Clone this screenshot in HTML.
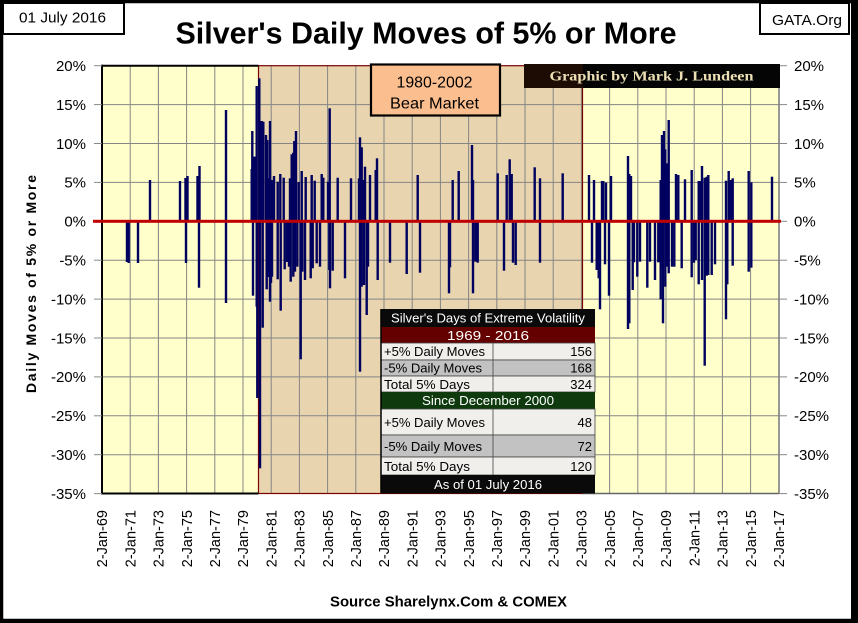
<!DOCTYPE html>
<html><head><meta charset="utf-8"><style>
html,body{margin:0;padding:0;background:#fff;}
svg{display:block;}
text{font-family:"Liberation Sans",Arial,sans-serif;}
</style></head><body>
<svg width="858" height="623" viewBox="0 0 858 623" xmlns="http://www.w3.org/2000/svg">
<rect x="0" y="0" width="858" height="623" fill="#fff"/>
<!-- plot background -->
<rect x="102" y="65.7" width="677" height="427.8" fill="#ffffcc"/>
<rect x="258.5" y="65.7" width="324" height="427.8" fill="#e8d4ae"/>
<g id="grid" stroke="#858585" stroke-width="1"></g>
<rect x="258.5" y="65.7" width="324" height="427.8" fill="none" stroke="#7a0000" stroke-width="1.2"/>
<!-- axes -->
<line x1="102" y1="64.7" x2="102" y2="494" stroke="#000" stroke-width="2"/>
<line x1="101" y1="493.5" x2="258.5" y2="493.5" stroke="#000" stroke-width="2"/>
<line x1="582.5" y1="493.5" x2="779" y2="493.5" stroke="#666" stroke-width="1.5"/>
<line x1="101" y1="65.7" x2="258.5" y2="65.7" stroke="#000" stroke-width="2"/>
<line x1="582.5" y1="65.7" x2="779" y2="65.7" stroke="#333" stroke-width="1.5"/>
<line x1="779" y1="65" x2="779" y2="494" stroke="#777" stroke-width="1.5"/>
<g id="ticks" stroke="#888" stroke-width="1"></g>
<g id="bars" fill="#00005e"></g>
<rect x="93" y="219.8" width="688" height="3" fill="#c00000"/>
<g id="ylab" font-size="15" fill="#000"></g>
<g id="xlab" font-size="14.5" fill="#000"></g>

<!-- table -->
<g font-size="13">
<rect x="381" y="309" width="214" height="18" fill="#0a0a0a"/>
<text x="488" y="322.5" fill="#fff" text-anchor="middle" textLength="194" lengthAdjust="spacingAndGlyphs">Silver's Days of Extreme Volatility</text>
<rect x="381" y="327" width="214" height="16" fill="#640000"/>
<text x="488" y="340" fill="#fff" text-anchor="middle" textLength="82" lengthAdjust="spacingAndGlyphs">1969 - 2016</text>
<rect x="381" y="343" width="214" height="17" fill="#f0efec" stroke="#444" stroke-width="0.8"/>
<rect x="381" y="360" width="214" height="16" fill="#c2c2c2" stroke="#444" stroke-width="0.8"/>
<rect x="381" y="376" width="214" height="16" fill="#f0efec" stroke="#444" stroke-width="0.8"/>
<rect x="381" y="392" width="214" height="17" fill="#0e3a0e"/>
<text x="488" y="405" fill="#fff" text-anchor="middle" textLength="132" lengthAdjust="spacingAndGlyphs">Since December 2000</text>
<rect x="381" y="409" width="214" height="26" fill="#f0efec" stroke="#444" stroke-width="0.8"/>
<rect x="381" y="435" width="214" height="22" fill="#c2c2c2" stroke="#444" stroke-width="0.8"/>
<rect x="381" y="457" width="214" height="18" fill="#f0efec" stroke="#444" stroke-width="0.8"/>
<rect x="381" y="475" width="214" height="18.5" fill="#0a0a0a"/>
<text x="488" y="489" fill="#fff" text-anchor="middle" textLength="108" lengthAdjust="spacingAndGlyphs">As of 01 July 2016</text>
<line x1="493" y1="343" x2="493" y2="392" stroke="#444" stroke-width="0.8"/>
<line x1="493" y1="409" x2="493" y2="475" stroke="#444" stroke-width="0.8"/>
<line x1="381" y1="309" x2="381" y2="493" stroke="#000" stroke-width="1.5"/>
<text x="384" y="356" textLength="101" lengthAdjust="spacingAndGlyphs">+5% Daily Moves</text>
<text x="592" y="356" text-anchor="end">156</text>
<text x="384" y="372.5" textLength="98" lengthAdjust="spacingAndGlyphs">-5% Daily Moves</text>
<text x="592" y="372.5" text-anchor="end">168</text>
<text x="384" y="389" textLength="86" lengthAdjust="spacingAndGlyphs">Total 5% Days</text>
<text x="592" y="389" text-anchor="end">324</text>
<text x="384" y="427" textLength="101" lengthAdjust="spacingAndGlyphs">+5% Daily Moves</text>
<text x="592" y="427" text-anchor="end">48</text>
<text x="384" y="451" textLength="98" lengthAdjust="spacingAndGlyphs">-5% Daily Moves</text>
<text x="592" y="451" text-anchor="end">72</text>
<text x="384" y="471" textLength="86" lengthAdjust="spacingAndGlyphs">Total 5% Days</text>
<text x="592" y="471" text-anchor="end">120</text>
</g>

<!-- Bear market box -->
<rect x="371" y="64.5" width="129" height="51" fill="#fbbf8f" stroke="#000" stroke-width="2.2"/>
<text x="434.5" y="87.3" font-size="16" text-anchor="middle" textLength="76" lengthAdjust="spacingAndGlyphs">1980-2002</text>
<text x="434.5" y="108.3" font-size="16" text-anchor="middle" textLength="89" lengthAdjust="spacingAndGlyphs">Bear Market</text>
<!-- Graphic by -->
<rect x="524" y="64" width="59" height="24" fill="#1c0c04"/>
<rect x="583" y="64" width="197" height="24" fill="#050505"/>
<text x="549.5" y="80.7" style="font-family:'Liberation Serif',serif;font-weight:bold;font-size:14px;" fill="#ece0b4" textLength="204" lengthAdjust="spacingAndGlyphs">Graphic by Mark J. Lundeen</text>

<!-- title & labels -->
<text x="175.5" y="43.3" font-size="31" font-weight="bold" textLength="501" lengthAdjust="spacingAndGlyphs">Silver's Daily Moves of 5% or More</text>
<text transform="translate(36,284) rotate(-90)" font-size="14" font-weight="bold" text-anchor="middle" textLength="218" lengthAdjust="spacing">Daily Moves of 5% or More</text>
<text x="330" y="606.5" font-size="14.5" font-weight="bold" textLength="237" lengthAdjust="spacingAndGlyphs">Source Sharelynx.Com &amp; COMEX</text>

<!-- date and GATA boxes -->
<rect x="3" y="3" width="121" height="31" fill="#fff" stroke="#000" stroke-width="2"/>
<text x="19" y="22.7" font-size="15" textLength="87" lengthAdjust="spacingAndGlyphs">01 July 2016</text>
<rect x="760" y="3" width="89" height="31" fill="#fff" stroke="#000" stroke-width="2"/>
<text x="772" y="25" font-size="15" textLength="70" lengthAdjust="spacingAndGlyphs">GATA.Org</text>

<!-- outer border -->
<rect x="1.5" y="1.5" width="852" height="619" fill="none" stroke="#000" stroke-width="3.5"/>
<rect x="851" y="0" width="7" height="623" fill="#000"/>
<rect x="0" y="619" width="858" height="4" fill="#000"/>
</svg>
<script>
(function(){
var NS="http://www.w3.org/2000/svg";
function Y(v){return 221.3-7.78*v;}
function el(tag,attrs,parent,txt){var e=document.createElementNS(NS,tag);for(var k in attrs)e.setAttribute(k,attrs[k]);if(txt!==undefined)e.textContent=txt;parent.appendChild(e);return e;}
var grid=document.getElementById("grid"),ticks=document.getElementById("ticks"),ylab=document.getElementById("ylab"),xlab=document.getElementById("xlab"),bars=document.getElementById("bars");
for(var v=20;v>=-35;v-=5){var y=Y(v);
 if(v!==20&&v!==-35&&v!==0){el("line",{x1:102,y1:y,x2:779,y2:y},grid);}
 el("line",{x1:94,y1:y,x2:102,y2:y},ticks);el("line",{x1:779,y1:y,x2:787,y2:y},ticks);
 el("text",{x:86,y:y+5.3,"text-anchor":"end"},ylab,v+"%");
 el("text",{x:794,y:y+5.3},ylab,v+"%");}
for(var i=1;i<24;i++){var x=102+i*28.2;el("line",{x1:x,y1:65.7,x2:x,y2:493},grid);}
for(var i=0;i<=24;i++){var x=102+i*28.2;var yr=(69+2*i)%100;var s=(yr<10?"0":"")+yr;
 el("text",{transform:"translate("+(x+5.2)+",510) rotate(-90)","text-anchor":"end"},xlab,"2-Jan-"+s);}
var pos=[[150,180],[180,181],[185.5,178],[187.5,176],[197.5,176],[199.5,166],[226,110],[251.7,169],[252.3,131],[254,156.7],[255,156.7],[256.7,86],[259.3,78.3],[261.7,121],[263.3,121.7],[266,135],[267.3,140],[268,178],[270,121],[272,180],[274,176],[277.7,181.7],[280.3,174],[283.7,177.7],[290,178.3],[291.7,154.3],[293.3,152.7],[294.3,141],[296,131],[298.7,182],[301.7,171],[305.7,177],[311.7,175],[314.7,180.7],[321.7,174],[323.3,177.7],[328,181.7],[329.7,108.3],[337.7,177.7],[351,178.3],[359,178.3],[360,137.3],[361.7,147.3],[363.3,180],[365,166.7],[370,175],[375.7,170],[377,158.3],[417.7,175],[452.7,180],[458.7,171],[472,145],[473,180],[497.7,173.3],[506.7,175],[509.7,159.3],[511.7,174],[534.7,167.3],[540,178.3],[562.7,173.3],[589,175],[594,180],[602,181],[603.3,181],[606,182.7],[611,176],[628,156],[629.3,174],[631,176],[660.7,180],[662,135],[664,131],[665.3,149.3],[666.7,163.3],[668.7,120],[676,174],[678.3,175],[685,179.3],[691.7,170],[698.7,181],[700.7,181],[702,166],[704.7,177.7],[706.7,176.7],[708.3,175],[726,180.7],[728.7,171],[730.7,180],[732.7,178.3],[748.7,171],[751.3,182.3],[772,176.7]];
var neg=[[127,262],[128.7,263],[138,263],[186,263],[199,287.7],[226,303],[253,295.7],[256.7,306.7],[257.3,398],[260,468.3],[262.7,327.7],[266.7,289.3],[268.5,277],[270,301.7],[271,283],[272,276.7],[277.7,279.3],[280.7,310.7],[284.7,269.3],[287,262],[289,266.7],[290.7,281.7],[293.3,276.7],[295,271.7],[297.3,266.7],[300.7,359.3],[302.3,271.7],[305,280],[310.7,278.3],[312.7,268.3],[316.7,263.3],[320,266.7],[329.3,270],[330,288.3],[332.7,270.7],[345,278.3],[360,371.7],[361.7,286.7],[364,285],[366.7,315],[368,266.7],[377.7,280],[390,262.7],[406.7,274],[420,272.7],[449,293.3],[450,267.3],[473,293.3],[475.3,261.7],[477.7,262.7],[504,270.7],[513,262.7],[515.7,265],[540,262.7],[592,262.7],[596.7,270],[598.7,278.3],[600,309.3],[605,264.3],[609,295.7],[628,329],[629.3,323.3],[632.7,290],[634,262.3],[637.3,276.7],[640,261.7],[647.3,287.7],[650,261.7],[655,280],[658.3,262.3],[660.7,299.3],[662,266.7],[663,323.3],[665.3,286.7],[666.7,266.7],[668.7,273.3],[672,266.7],[674.3,266.7],[681.7,268.3],[691.7,277.3],[694,262.7],[695.7,260],[698.7,284.3],[702,280],[704.7,365.7],[706.7,275.7],[708.3,275],[711.7,275],[715,264.3],[726,319.3],[727.3,284.3],[732.7,265.7],[748.7,271.7],[751.3,267.7]];
pos.forEach(function(p){el("rect",{x:p[0]-1.2,y:p[1],width:2.4,height:221.3-p[1]},bars);});
neg.forEach(function(p){el("rect",{x:p[0]-1.2,y:221.3,width:2.4,height:p[1]-221.3},bars);});
})();
</script>
</body></html>
